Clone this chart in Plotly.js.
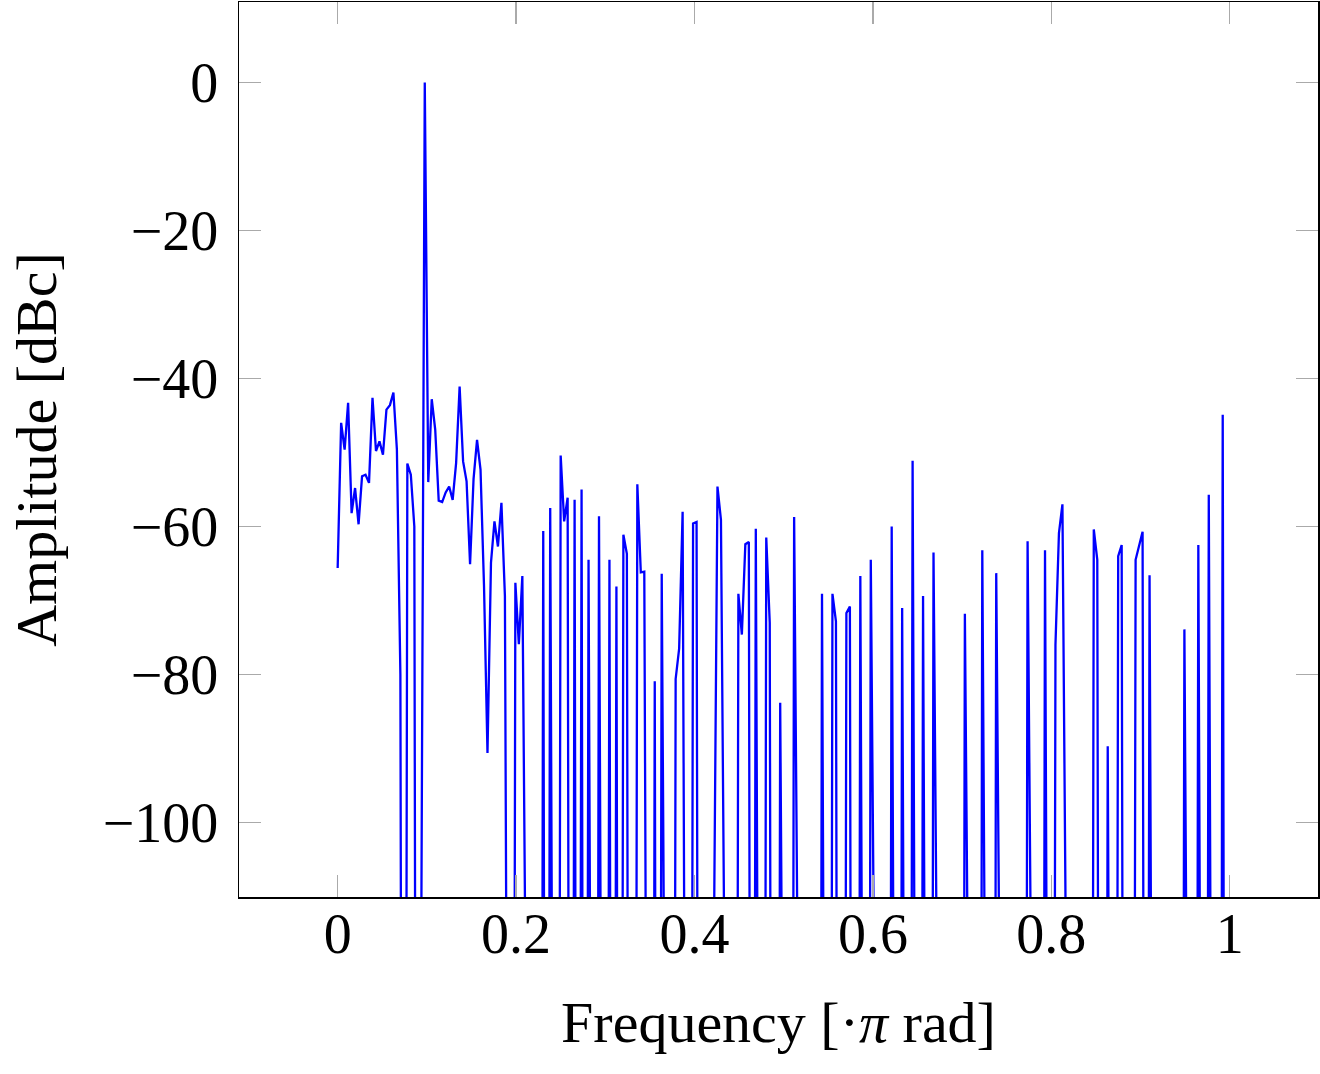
<!DOCTYPE html>
<html>
<head>
<meta charset="utf-8">
<script src="https://cdn.plot.ly/plotly-3.0.1.min.js"></script>
<style>
  html, body { margin: 0; padding: 0; background: #ffffff; }
  #chart { width: 1320px; height: 1074px; }
</style>
</head>
<body>
<div id="chart"></div>
<script>
// FFT bin count (x = bin / binCount, in units of pi rad)
const binCount = 256;

// Amplitude per bin [dBc]; bins at the numerical floor sit far below the axis (-300)
const amplitudeDbc = [
  -65.6, -46.0, -49.6, -43.3, -58.2, -54.8, -59.7, -53.2, -53.0, -54.1, -42.6, -49.8, -48.5, -50.3, -44.2, -43.6,
  -41.9, -49.6, -80.0, -300, -51.5, -53.0, -60.0, -300, -115, 0.0, -54.0, -42.8, -46.9, -56.5, -56.7, -55.4,
  -54.6, -56.4, -51.4, -41.1, -51.2, -53.9, -65.1, -53.6, -48.3, -52.3, -68.0, -90.6, -64.9, -59.3, -62.7, -56.8,
  -69.4, -300, -300, -67.6, -75.9, -66.7, -300, -300, -300, -300, -300, -60.6, -300, -57.5, -300, -300,
  -50.4, -59.3, -56.1, -300, -56.4, -300, -55.0, -300, -64.5, -300, -300, -58.6, -115, -300, -64.5, -300,
  -68.1, -300, -61.1, -63.7, -300, -300, -54.3, -66.2, -66.1, -300, -300, -80.9, -300, -66.4, -300, -300,
  -300, -80.6, -76.5, -58.0, -120, -300, -59.6, -59.4, -300, -300, -300, -300, -115, -54.6, -59.1, -300,
  -300, -300, -300, -69.1, -74.6, -62.4, -62.1, -300, -60.3, -300, -300, -61.5, -73.0, -300, -300, -83.8,
  -300, -300, -300, -58.7, -300, -300, -300, -300, -300, -300, -300, -69.1, -300, -300, -69.1, -72.8,
  -300, -300, -71.7, -70.8, -300, -300, -66.7, -300, -300, -64.5, -300, -300, -300, -300, -300, -60.0,
  -300, -300, -71.0, -300, -300, -51.1, -300, -300, -69.4, -300, -300, -63.5, -300, -300, -300, -300,
  -300, -300, -300, -300, -71.8, -300, -300, -300, -300, -63.2, -300, -300, -300, -66.3, -300, -300,
  -300, -300, -300, -300, -300, -300, -62.0, -300, -300, -300, -300, -63.2, -300, -300, -76.0, -60.9,
  -57.0, -300, -300, -300, -300, -300, -300, -300, -300, -60.4, -64.5, -300, -300, -89.7, -300, -300,
  -64.0, -62.5, -300, -300, -300, -64.5, -62.7, -60.7, -300, -66.6, -300, -300, -300, -300, -300, -300,
  -300, -300, -300, -73.9, -300, -300, -300, -62.5, -300, -300, -55.7, -300, -300, -300, -44.9, -300
];

const frequency = amplitudeDbc.map((_, k) => k / binCount);

const xTickVals = [0, 0.2, 0.4, 0.6, 0.8, 1];
const xTickText = ['0', '0.2', '0.4', '0.6', '0.8', '1'];
const yTickVals = [0, -20, -40, -60, -80, -100];
const yTickText = ['0', '\u221220', '\u221240', '\u221260', '\u221280', '\u2212100'];

const FONT = 'Liberation Serif, Times New Roman, serif';

const trace = {
  x: frequency,
  y: amplitudeDbc,
  type: 'scatter',
  mode: 'lines',
  line: { color: '#0000ff', width: 2.3 },
  hoverinfo: 'skip'
};

const axisCommon = {
  showgrid: false,
  zeroline: false,
  showline: true,
  linecolor: '#000000',
  linewidth: 1.5,
  mirror: 'all',
  ticks: 'inside',
  ticklen: 22,
  tickwidth: 1.5,
  tickcolor: '#aaaaaa',
  tickfont: { family: FONT, size: 56, color: '#000000' }
};

const layout = {
  width: 1320,
  height: 1074,
  paper_bgcolor: '#ffffff',
  plot_bgcolor: '#ffffff',
  showlegend: false,
  margin: { l: 239, r: 2, t: 2, b: 177 },
  xaxis: Object.assign({}, axisCommon, {
    range: [-0.1106, 1.099],
    tickvals: xTickVals,
    ticktext: xTickText,
    ticklabelstandoff: -13,
    title: { text: 'Frequency [\u00b7<i>\u03c0</i> rad]', font: { family: FONT, size: 58, color: '#000000' }, standoff: 37 },
    automargin: false
  }),
  yaxis: Object.assign({}, axisCommon, {
    range: [-110.06, 10.87],
    tickvals: yTickVals,
    ticktext: yTickText,
    ticklabelstandoff: 8,
    title: { text: 'Amplitude [dBc]', font: { family: FONT, size: 58, color: '#000000' }, standoff: 27 },
    automargin: false
  })
};

Plotly.newPlot('chart', [trace], layout, { staticPlot: true, displayModeBar: false });
</script>
</body>
</html>
